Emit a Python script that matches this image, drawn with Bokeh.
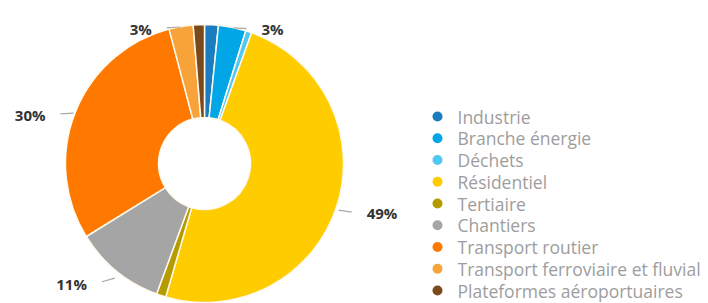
import numpy as np
from bokeh.plotting import figure
from bokeh.models import Range1d, ColumnDataSource
from bokeh.core.properties import value
from bokeh.embed import file_html
from bokeh.resources import INLINE

categories = ["Industrie", "Branche énergie", "Déchets", "Résidentiel", "Tertiaire",
              "Chantiers", "Transport routier", "Transport ferroviaire et fluvial",
              "Plateformes aéroportuaires"]
shares = [1.6, 3.2, 0.7, 49.0, 1.1, 10.6, 29.7, 2.8, 1.3]
colors = ["#1b7cc0", "#00a6e6", "#50c8f4", "#ffcc00", "#b59b00", "#a5a5a5",
          "#ff7800", "#f8a23a", "#7b4a1c"]
label_min = 2.5  # only slices at least this large get a label

W, H = 708, 303
p = figure(width=W, height=H, output_backend="svg", toolbar_location=None,
           x_range=Range1d(0, W), y_range=Range1d(-H, 0),
           min_border=0, outline_line_color=None, background_fill_color="white")
p.axis.visible = False
p.grid.visible = False

cx, cy = 204, -163
r_out, r_in = 139, 46

vals = np.array(shares, dtype=float)
frac = vals / vals.sum()
cum_end = np.cumsum(frac)
cum_start = cum_end - frac
start_a = np.pi / 2 - 2 * np.pi * cum_end
end_a = np.pi / 2 - 2 * np.pi * cum_start

src = ColumnDataSource(dict(start=start_a, end=end_a, color=colors))
p.annular_wedge(x=cx, y=cy, inner_radius=r_in, outer_radius=r_out,
                start_angle="start", end_angle="end", fill_color="color",
                line_color="#fff8ec", line_width=1.5, source=src)

# labels with short leader lines
mid = 2 * np.pi * (cum_start + frac / 2)  # clockwise from top
lx, ly, lt, la = [], [], [], []
x0s, y0s, x1s, y1s = [], [], [], []
for i, v in enumerate(vals):
    if v < label_min:
        continue
    s, c = np.sin(mid[i]), np.cos(mid[i])
    ex, ey = cx + (r_out + 1) * s, cy + (r_out + 1) * c
    sgn = 1 if s > 0 else -1
    off = 3 + 12 * max(0.0, -c)  # downward shift in pixels
    x0s.append(ex + sgn * 1)
    y0s.append(ey - off * 0.5)
    x1s.append(ex + sgn * 14)
    y1s.append(ey - off * 0.8)
    lx.append(ex + sgn * 29)
    ly.append(ey - off)
    lt.append(f"{round(v)}%")
    la.append("left" if sgn > 0 else "right")

p.segment(x0=x0s, y0=y0s, x1=x1s, y1=y1s, line_color="#a8a8a8", line_width=1.2)
p.text(x=lx, y=ly, text=lt, text_align=la, text_baseline="middle",
       text_font=value("Open Sans"), text_font_style="bold",
       text_font_size="15px", text_color="#333333")

# legend
n = len(categories)
leg_x = 437
leg_y = -116 - 21.75 * np.arange(n)
p.scatter(x=[leg_x] * n, y=leg_y, size=10, marker="circle", fill_color=colors,
          line_color=None)
p.text(x=[leg_x + 20] * n, y=leg_y, text=categories, text_baseline="middle",
       text_font=value("Open Sans"), text_font_size="17.5px", text_color="#9d9d9d")

open("out.html", "w").write(file_html(p, INLINE))
